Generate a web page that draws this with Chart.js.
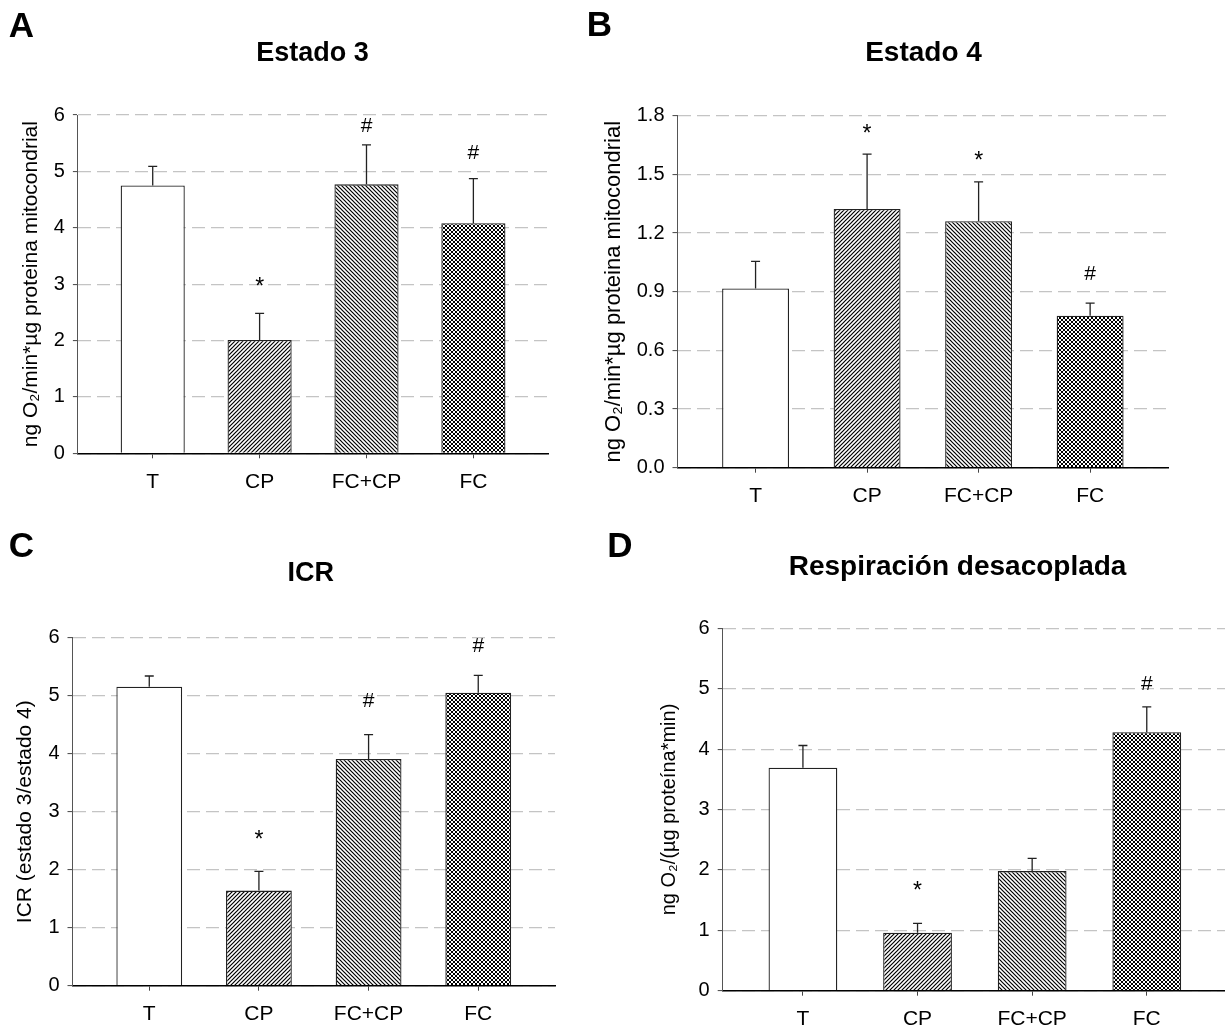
<!DOCTYPE html>
<html>
<head>
<meta charset="utf-8">
<script src="https://cdn.jsdelivr.net/npm/chart.js@4.4.1/dist/chart.umd.min.js"></script>
<style>
html, body { margin: 0; padding: 0; background: #fff; overflow: hidden; }
#page { position: relative; width: 1225px; height: 1027px; overflow: hidden;
  font-family: "Liberation Sans", Arial, sans-serif; color: #000; }
#page canvas { position: absolute; }
.txt { position: absolute; transform: translate(-50%, -55%); font-weight: bold;
  white-space: nowrap; line-height: 1; }
</style>
</head>
<body>
<div id="page"></div>
<script>
var categories = ['T', 'CP', 'FC+CP', 'FC'];

// A - Estado 3
var estado3 = [4.75, 2.01, 4.77, 4.08];
var estado3Err = [0.34, 0.47, 0.70, 0.79];
var estado3Marks = ['', '*', '#', '#'];
var estado3MarkAt = [null, 3.04, 5.82, 5.34];

// B - Estado 4
var estado4 = [0.917, 1.323, 1.26, 0.777];
var estado4Err = [0.138, 0.28, 0.202, 0.065];
var estado4Marks = ['', '*', '*', '#'];
var estado4MarkAt = [null, 1.737, 1.595, 0.994];

// C - ICR
var icr = [5.155, 1.64, 3.91, 5.05];
var icrErr = [0.185, 0.33, 0.42, 0.30];
var icrMarks = ['', '*', '#', '#'];
var icrMarkAt = [null, 2.60, 4.93, 5.88];

// D - Respiracion desacoplada
var desacoplada = [3.69, 0.96, 1.98, 4.28];
var desacopladaErr = [0.37, 0.155, 0.21, 0.42];
var desacopladaMarks = ['', '*', '', '#'];
var desacopladaMarkAt = [null, 1.735, null, 5.10];

var FONT = '"Liberation Sans", Arial, sans-serif';
var page = document.getElementById('page');

function hatch(kind) {
  var s = 4;
  var c = document.createElement('canvas');
  c.width = s; c.height = s;
  var g = c.getContext('2d');
  g.fillStyle = '#fff';
  g.fillRect(0, 0, s, s);
  g.strokeStyle = '#000';
  g.lineWidth = kind === 'cross' ? 1 : 1.2;
  function line(x0, y0, x1, y1) {
    g.beginPath(); g.moveTo(x0, y0); g.lineTo(x1, y1); g.stroke();
  }
  if (kind === 'up' || kind === 'cross') {
    line(-1, s + 1, s + 1, -1); line(-1, 1, 1, -1); line(s - 1, s + 1, s + 1, s - 1);
  }
  if (kind === 'down' || kind === 'cross') {
    line(-1, -1, s + 1, s + 1); line(s - 1, -1, s + 1, 1); line(-1, s - 1, 1, s + 1);
  }
  return g.createPattern(c, 'repeat');
}

var fills = ['#fff', hatch('up'), hatch('down'), hatch('cross')];

function addText(str, x, y, size) {
  var d = document.createElement('div');
  d.className = 'txt';
  d.style.left = x + 'px';
  d.style.top = y + 'px';
  d.style.fontSize = size + 'px';
  d.textContent = str;
  page.appendChild(d);
}

var errorBars = {
  id: 'errorBars',
  afterDatasetsDraw: function(chart, args, opts) {
    var ctx = chart.ctx;
    var y = chart.scales.y;
    var meta = chart.getDatasetMeta(0);
    ctx.save();
    ctx.strokeStyle = '#222';
    ctx.lineWidth = 1.3;
    meta.data.forEach(function(bar, i) {
      var top = y.getPixelForValue(opts.values[i] + opts.errors[i]);
      ctx.beginPath();
      ctx.moveTo(bar.x, bar.y);
      ctx.lineTo(bar.x, top);
      ctx.moveTo(bar.x - 4.5, top);
      ctx.lineTo(bar.x + 4.5, top);
      ctx.stroke();
    });
    ctx.fillStyle = '#000';
    ctx.textAlign = 'center';
    ctx.textBaseline = 'alphabetic';
    meta.data.forEach(function(bar, i) {
      var m = opts.marks[i];
      if (!m) return;
      ctx.font = (m === '*' ? '23px ' : '21px ') + FONT;
      var yc = y.getPixelForValue(opts.markAt[i]);
      var tm = ctx.measureText(m);
      ctx.fillText(m, bar.x, yc + (tm.actualBoundingBoxAscent - tm.actualBoundingBoxDescent) / 2);
    });
    ctx.restore();
  }
};

function makePanel(p) {
  var cv = document.createElement('canvas');
  cv.width = p.box[2];
  cv.height = p.box[3];
  cv.style.left = p.box[0] + 'px';
  cv.style.top = p.box[1] + 'px';
  cv.style.width = p.box[2] + 'px';
  cv.style.height = p.box[3] + 'px';
  page.appendChild(cv);

  addText(p.letter, p.letterAt[0], p.letterAt[1], 35);
  addText(p.title, p.titleAt[0], p.titleAt[1], p.titleSize);

  new Chart(cv, {
    type: 'bar',
    data: {
      datasets: [{
        data: p.values.map(function(v, i) { return { x: i, y: v }; }),
        backgroundColor: fills,
        borderColor: '#222',
        borderWidth: 1.3,
        barPercentage: 0.6,
        categoryPercentage: 1
      }]
    },
    options: {
      responsive: false,
      animation: false,
      devicePixelRatio: 1,
      layout: {
        padding: {
          top: p.area.t - p.box[1],
          right: p.box[0] + p.box[2] - p.area.r,
          left: 0,
          bottom: 0
        }
      },
      plugins: {
        legend: { display: false },
        tooltip: { enabled: false },
        errorBars: { values: p.values, errors: p.errors, marks: p.marks, markAt: p.markAt }
      },
      scales: {
        x: {
          type: 'linear',
          offset: false,
          min: -0.7,
          max: p.xmax,
          afterBuildTicks: function(s) {
            s.ticks = categories.map(function(c, i) { return { value: i }; });
          },
          afterFit: function(s) { s.height = p.box[1] + p.box[3] - p.area.b; },
          ticks: {
            callback: function(v) { return categories[v]; },
            autoSkip: false,
            maxRotation: 0,
            color: '#000',
            padding: 11,
            font: { family: FONT, size: p.tickSize + 1 }
          },
          grid: { offset: false, drawOnChartArea: false, tickLength: 5, tickColor: '#444', tickWidth: 1 },
          border: { color: '#000', width: 1.5 }
        },
        y: {
          min: 0,
          max: p.ymax,
          afterFit: function(s) { s.width = p.area.l - p.box[0]; },
          ticks: {
            stepSize: p.step,
            callback: function(v) { return v.toFixed(p.decimals); },
            color: '#000',
            padding: 8,
            font: { family: FONT, size: p.tickSize }
          },
          grid: { color: '#c4c4c4', lineWidth: 1.2, tickLength: 5, tickColor: '#444',
                  tickWidth: 1, tickBorderDash: [] },
          border: { color: '#555', width: 1, dash: [13, 6] },
          title: {
            display: true,
            text: p.ylabel,
            color: '#000',
            font: { family: FONT, size: p.ylabelSize },
            padding: { top: p.ylabelPad, bottom: 0 }
          }
        }
      }
    },
    plugins: [errorBars]
  });
}

makePanel({
  letter: 'A', letterAt: [21.5, 26], title: 'Estado 3', titleAt: [312.5, 54], titleSize: 27,
  box: [0, 0, 600, 510], area: { l: 77.9, r: 548.2, t: 115, b: 453.3 }, xmax: 3.7,
  ymax: 6, step: 1, decimals: 0, tickSize: 20,
  ylabel: 'ng O\u2082/min*\u00b5g proteina mitocondrial', ylabelSize: 21, ylabelPad: 18.4,
  values: estado3, errors: estado3Err, marks: estado3Marks, markAt: estado3MarkAt
});

makePanel({
  letter: 'B', letterAt: [599.5, 24.5], title: 'Estado 4', titleAt: [923.5, 53], titleSize: 28,
  box: [590, 0, 635, 520], area: { l: 677.5, r: 1168.2, t: 115.7, b: 467.7 }, xmax: 3.7,
  ymax: 1.8, step: 0.3, decimals: 1, tickSize: 20,
  ylabel: 'ng O\u2082/min*\u00b5g proteina mitocondrial', ylabelSize: 22, ylabelPad: 10.8,
  values: estado4, errors: estado4Err, marks: estado4Marks, markAt: estado4MarkAt
});

makePanel({
  letter: 'C', letterAt: [21.5, 546], title: 'ICR', titleAt: [310.7, 574], titleSize: 27,
  box: [0, 520, 600, 507], area: { l: 72.5, r: 555, t: 637.7, b: 985.7 }, xmax: 3.7,
  ymax: 6, step: 1, decimals: 0, tickSize: 20,
  ylabel: 'ICR (estado 3/estado 4)', ylabelSize: 21, ylabelPad: 12.4,
  values: icr, errors: icrErr, marks: icrMarks, markAt: icrMarkAt
});

makePanel({
  letter: 'D', letterAt: [620, 546], title: 'Respiraci\u00f3n desacoplada', titleAt: [957.6, 567], titleSize: 28,
  box: [600, 520, 640, 507], area: { l: 722.7, r: 1227, t: 628.3, b: 990.7 }, xmax: 3.7,
  ymax: 6, step: 1, decimals: 0, tickSize: 20,
  ylabel: 'ng O\u2082/(\u00b5g prote\u00edna*min)', ylabelSize: 20, ylabelPad: 57,
  values: desacoplada, errors: desacopladaErr, marks: desacopladaMarks, markAt: desacopladaMarkAt
});
</script>
</body>
</html>
